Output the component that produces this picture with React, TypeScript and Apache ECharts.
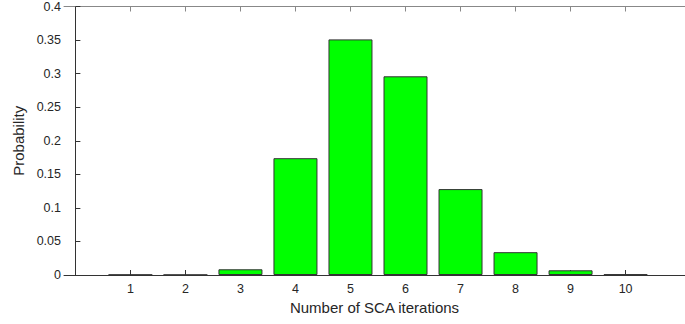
import React, { useEffect, useRef } from "react";
import * as echarts from "echarts";

const iterations = [1, 2, 3, 4, 5, 6, 7, 8, 9, 10];
const probability = [0.0005, 0.0003, 0.0085, 0.174, 0.351, 0.296, 0.128, 0.034, 0.007, 0.001];
const yTicks = [0, 0.05, 0.1, 0.15, 0.2, 0.25, 0.3, 0.35, 0.4];

const FONT = "'Liberation Sans', Arial, Helvetica, sans-serif";

export default function App() {
  const ref = useRef<HTMLDivElement>(null);
  useEffect(() => {
    if (!ref.current) return;
    const chart = echarts.init(ref.current, undefined, { renderer: "svg" });
    chart.setOption({
      animation: false,
      backgroundColor: "#ffffff",
      grid: { left: 64, top: 6, right: 0, bottom: 49, containLabel: false },
      xAxis: [
        {
          type: "value",
          position: "bottom",
          min: -0.207,
          max: 11.08,
          name: "Number of SCA iterations",
          nameLocation: "middle",
          nameGap: 25,
          nameTextStyle: { fontFamily: FONT, fontSize: 15, color: "#262626" },
          axisLine: { show: true, onZero: false, lineStyle: { color: "#333333", width: 1 } },
          axisTick: { show: true, inside: true, length: 5, customValues: iterations, lineStyle: { color: "#333333" } },
          axisLabel: { show: true, customValues: iterations, margin: 7, fontFamily: FONT, fontSize: 12.5, color: "#262626" },
          splitLine: { show: false },
        },
        {
          type: "value",
          position: "top",
          min: -0.207,
          max: 11.08,
          axisLine: { show: true, onZero: false, lineStyle: { color: "#888888", width: 1 } },
          axisTick: { show: true, inside: true, length: 5, customValues: iterations, lineStyle: { color: "#888888" } },
          axisLabel: { show: false },
          splitLine: { show: false },
        },
      ],
      yAxis: {
        type: "value",
        min: 0,
        max: 0.4,
        interval: 0.05,
        name: "Probability",
        nameLocation: "middle",
        nameGap: 38,
        nameTextStyle: { fontFamily: FONT, fontSize: 15, color: "#262626" },
        axisLine: { show: true, lineStyle: { color: "#333333", width: 1 } },
        axisTick: { show: true, inside: true, length: 5, customValues: yTicks, lineStyle: { color: "#333333" } },
        axisLabel: { margin: 3, fontFamily: FONT, fontSize: 12.5, color: "#262626" },
        splitLine: { show: false },
      },
      series: [
        {
          type: "bar",
          xAxisIndex: 0,
          data: iterations.map((x, i) => [x, probability[i]]),
          barWidth: 44,
          itemStyle: { color: "#00ff00", borderColor: "#333333", borderWidth: 1 },
        },
      ],
    });
    return () => chart.dispose();
  }, []);
  return (
    <div
      ref={ref}
      style={{ position: "fixed", left: 0, top: 0, width: 685, height: 324, background: "#fff" }}
    />
  );
}
